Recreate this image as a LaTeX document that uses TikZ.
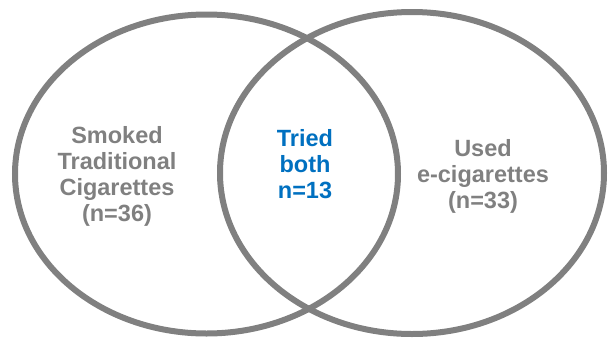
\documentclass[tikz,border=0pt]{standalone}
\usepackage{fontspec}
\setmainfont{Liberation Sans}
\usetikzlibrary{shapes.geometric}
\definecolor{ringgray}{HTML}{808080}
\definecolor{bothblue}{HTML}{0070C0}
\begin{document}
\begin{tikzpicture}[
  x=1pt, y=-1pt,
  ring/.style={ellipse, draw=ringgray, line width=6pt, inner sep=0pt},
  label/.style={align=center, font=\fontsize{23.5}{26}\selectfont\bfseries, text=ringgray},
  both/.style={label, text=bothblue}
]
\useasboundingbox (0,0) rectangle (614,341);
\node[ring, minimum width=383pt, minimum height=319pt] (smoked) at (206.5,174) {};
\node[ring, minimum width=384pt, minimum height=322pt] (ecig) at (412,173) {};

\node[label] (smoked_txt) at (117,176) {Smoked\\Traditional\\Cigarettes\\(n=36)};
\node[both] (both_txt) at (305,164) {Tried\\both\\n=13};
\node[label] (ecig_txt) at (483,176) {Used\\e-cigarettes\\(n=33)};
\end{tikzpicture}
\end{document}
